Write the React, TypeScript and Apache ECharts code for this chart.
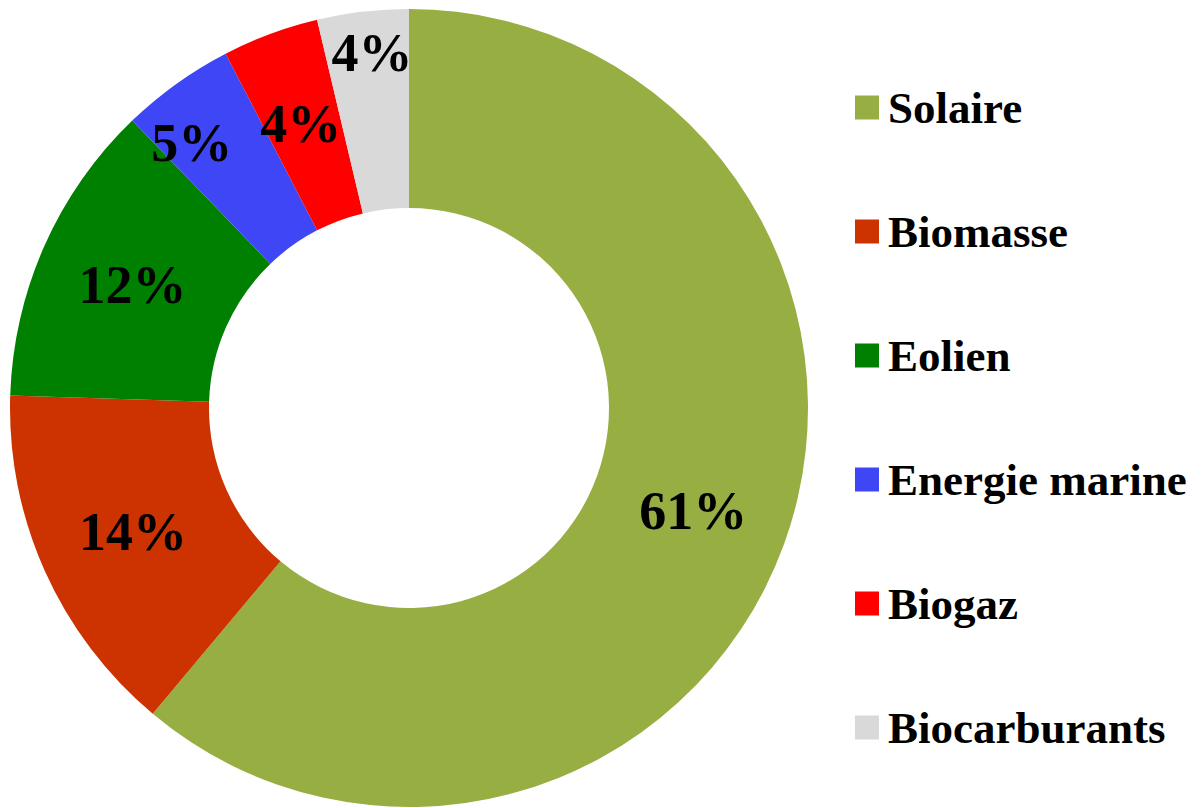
import React, { useEffect, useRef } from "react";
import * as echarts from "echarts";

const categories = ["Solaire", "Biomasse", "Eolien", "Energie marine", "Biogaz", "Biocarburants"];
const values = [61.1, 14.4, 12.3, 4.6, 3.9, 3.7];
const colors = ["#97AE43", "#CC3300", "#008000", "#3E46F5", "#FF0000", "#D9D9D9"];
// manual label nudges (dx, dy) per slice, as in the original chart
const labelNudges: [number, number][] = [[0, 0], [0, 0], [0, 0], [-41, -19], [-3, 0], [-2, -55]];

const FONT = "'Liberation Serif', 'DejaVu Serif', serif";

export default function App() {
  const ref = useRef<HTMLDivElement>(null);
  useEffect(() => {
    document.body.style.margin = "0";
    const chart = echarts.init(ref.current!, null, { renderer: "svg" });
    chart.setOption({
      animation: false,
      backgroundColor: "#ffffff",
      color: colors,
      legend: {
        orient: "vertical",
        left: 850,
        top: 80,
        itemWidth: 24,
        itemHeight: 24,
        itemGap: 79,
        icon: "rect",
        textStyle: {
          fontFamily: FONT,
          fontWeight: "bold",
          fontSize: 45,
          lineHeight: 45,
          color: "#000",
          padding: [0, 0, 0, 4],
        },
        data: categories,
      },
      series: [
        {
          type: "pie",
          center: [409, 408],
          radius: [200, 399],
          startAngle: 90,
          clockwise: true,
          avoidLabelOverlap: false,
          label: {
            show: true,
            position: "inside",
            formatter: (p: any) => Math.round(p.value) + "%",
            fontFamily: FONT,
            fontWeight: "bold",
            fontSize: 54,
            color: "#000",
          },
          labelLine: { show: false },
          labelLayout: (params: any) => {
            const n = labelNudges[params.dataIndex] || [0, 0];
            return { dx: n[0], dy: n[1] };
          },
          emphasis: { disabled: true },
          data: categories.map((name, i) => ({ name, value: values[i] })),
        },
      ],
    });
    return () => chart.dispose();
  }, []);
  return <div ref={ref} style={{ width: 1202, height: 808 }} />;
}
